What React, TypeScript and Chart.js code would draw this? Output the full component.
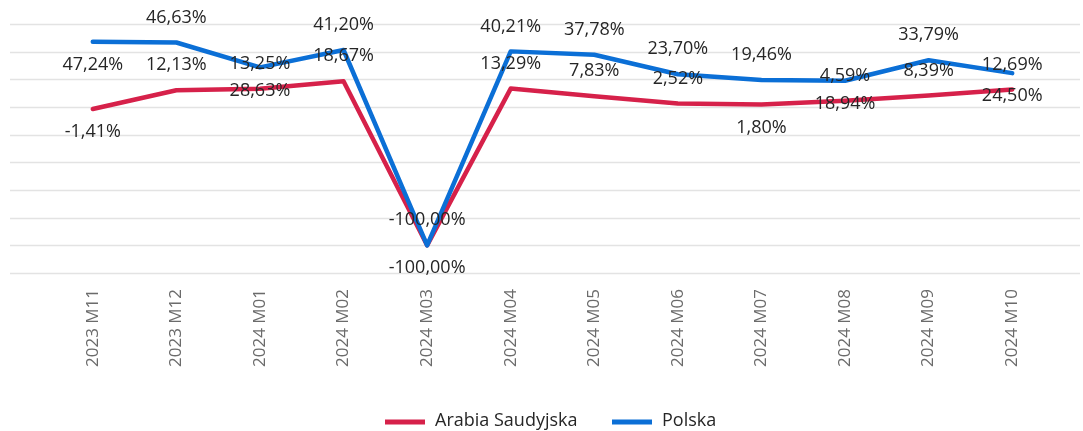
import React, { useEffect, useRef } from "react";
import { Chart, registerables } from "chart.js";

Chart.register(...registerables);

const categories = [
  "2023 M11", "2023 M12", "2024 M01", "2024 M02", "2024 M03", "2024 M04",
  "2024 M05", "2024 M06", "2024 M07", "2024 M08", "2024 M09", "2024 M10",
];
const arabiaValues = [-1.41, 12.13, 13.25, 18.67, -100.0, 13.29, 7.83, 2.52, 1.8, 4.59, 8.39, 12.69];
const polskaValues = [47.24, 46.63, 28.63, 41.2, -100.0, 40.21, 37.78, 23.7, 19.46, 18.94, 33.79, 24.5];
const arabiaLabelSide = ["below", "above", "above", "above", "below", "above", "above", "above", "below", "above", "above", "above"];
const polskaLabelSide = ["below", "above", "below", "above", "above", "above", "above", "above", "above", "below", "above", "below"];
const yTicks = { min: -120, max: 60, step: 20 };

const RED = "#D6214A";
const BLUE = "#0B6FD6";
const FONT = "'Open Sans', 'Noto Sans', sans-serif";

const fmt = (v: number) => v.toFixed(2).replace(".", ",") + "%";

export default function App() {
  const ref = useRef<HTMLCanvasElement | null>(null);
  useEffect(() => {
    document.body.style.margin = "0";
    const canvas = ref.current!;
    const sides = [arabiaLabelSide, polskaLabelSide];

    const gridPlugin = {
      id: "fullGrid",
      beforeDatasetsDraw(chart: any) {
        const ctx = chart.ctx;
        const y = chart.scales.y;
        ctx.save();
        ctx.strokeStyle = "#E3E3E3";
        ctx.lineWidth = 1.5;
        for (let v = yTicks.min; v <= yTicks.max; v += yTicks.step) {
          const py = Math.round(y.getPixelForValue(v)) + 0.5;
          ctx.beginPath();
          ctx.moveTo(10, py);
          ctx.lineTo(1080, py);
          ctx.stroke();
        }
        ctx.restore();
      },
    };

    const labelPlugin = {
      id: "pointLabels",
      afterDatasetsDraw(chart: any) {
        const ctx = chart.ctx;
        ctx.save();
        ctx.font = `18px ${FONT}`;
        ctx.fillStyle = "#262626";
        ctx.textAlign = "center";
        ctx.textBaseline = "middle";
        chart.data.datasets.forEach((ds: any, di: number) => {
          const meta = chart.getDatasetMeta(di);
          meta.data.forEach((pt: any, i: number) => {
            const off = sides[di][i] === "above" ? -25 : 23;
            ctx.fillText(fmt(ds.data[i]), pt.x, pt.y + off);
          });
        });
        ctx.restore();
      },
    };

    const legendPlugin = {
      id: "customLegend",
      afterDraw(chart: any) {
        const ctx = chart.ctx;
        ctx.save();
        const items = [
          { label: "Arabia Saudyjska", color: RED, x: 385 },
          { label: "Polska", color: BLUE, x: 612 },
        ];
        const ly = 421;
        ctx.font = `18px ${FONT}`;
        ctx.textBaseline = "middle";
        ctx.textAlign = "left";
        items.forEach((it) => {
          ctx.strokeStyle = it.color;
          ctx.lineWidth = 5;
          ctx.beginPath();
          ctx.moveTo(it.x, ly + 1);
          ctx.lineTo(it.x + 40, ly + 1);
          ctx.stroke();
          ctx.fillStyle = "#262626";
          ctx.fillText(it.label, it.x + 50, ly);
        });
        ctx.restore();
      },
    };

    const chart = new Chart(canvas, {
      type: "line",
      data: {
        labels: categories,
        datasets: [
          {
            label: "Arabia Saudyjska",
            data: arabiaValues,
            borderColor: RED,
            backgroundColor: RED,
            borderWidth: 4.5,
            pointRadius: 0,
            tension: 0,
            order: 1,
            borderJoinStyle: "round",
            borderCapStyle: "round",
          },
          {
            label: "Polska",
            data: polskaValues,
            borderColor: BLUE,
            backgroundColor: BLUE,
            borderWidth: 4.5,
            pointRadius: 0,
            tension: 0,
            order: 0,
            borderJoinStyle: "round",
            borderCapStyle: "round",
          },
        ],
      },
      options: {
        responsive: false,
        animation: false,
        layout: { padding: { left: 51, right: 29, top: 24, bottom: 0 } },
        plugins: {
          legend: { display: false },
          tooltip: { enabled: false },
        },
        scales: {
          x: {
            offset: true,
            grid: { display: false },
            border: { display: false },
            ticks: {
              maxRotation: 90,
              minRotation: 90,
              color: "#6B6B6B",
              padding: 8,
              font: { family: FONT, size: 17 },
            },
            afterFit: (scale: any) => {
              scale.height = 431 - 273;
            },
          },
          y: {
            display: false,
            min: yTicks.min,
            max: yTicks.max,
            ticks: { stepSize: yTicks.step },
          },
        },
      },
      plugins: [gridPlugin, labelPlugin, legendPlugin],
    });
    return () => chart.destroy();
  }, []);
  return <canvas ref={ref} width={1083} height={431} style={{ display: "block" }} />;
}
